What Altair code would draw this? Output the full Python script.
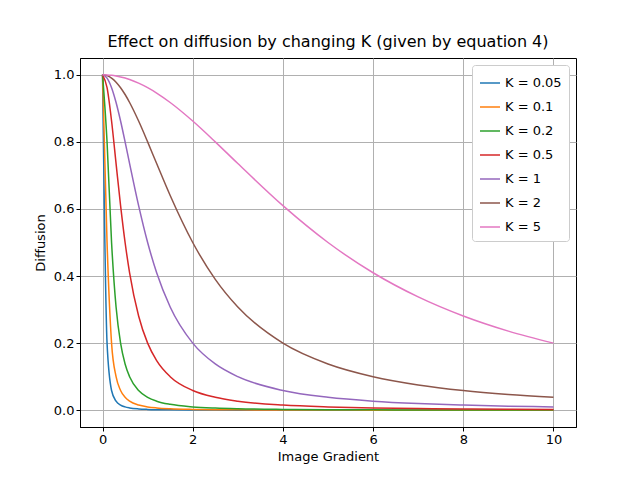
import altair as alt
import pandas as pd

x_vals = [0, 0.1, 0.2, 0.3, 0.4, 0.5, 0.6, 0.8, 1, 1.2, 1.5, 2, 2.5, 3, 4, 5, 6, 7, 8, 9, 10]

series = {
    "K = 0.05": [1, 0.2, 0.0588, 0.027, 0.0154, 0.0099, 0.0069, 0.0039, 0.0025, 0.0017, 0.0011,
                 0.0006, 0.0004, 0.0003, 0.0002, 0.0001, 0.0001, 0.0001, 0.0, 0.0, 0.0],
    "K = 0.1": [1, 0.5, 0.2, 0.1, 0.0588, 0.0385, 0.027, 0.0154, 0.0099, 0.0069, 0.0044,
                0.0025, 0.0016, 0.0011, 0.0006, 0.0004, 0.0003, 0.0002, 0.0002, 0.0001, 0.0001],
    "K = 0.2": [1, 0.8, 0.5, 0.3077, 0.2, 0.1379, 0.1, 0.0588, 0.0385, 0.027, 0.0175,
                0.0099, 0.0064, 0.0044, 0.0025, 0.0016, 0.0011, 0.0008, 0.0006, 0.0005, 0.0004],
    "K = 0.5": [1, 0.9615, 0.8621, 0.7353, 0.6098, 0.5, 0.4098, 0.2809, 0.2, 0.1479, 0.1,
                0.0588, 0.0385, 0.027, 0.0154, 0.0099, 0.0069, 0.0051, 0.0039, 0.0031, 0.0025],
    "K = 1": [1, 0.9901, 0.9615, 0.9174, 0.8621, 0.8, 0.7353, 0.6098, 0.5, 0.4098, 0.3077,
              0.2, 0.1379, 0.1, 0.0588, 0.0385, 0.027, 0.02, 0.0154, 0.0122, 0.0099],
    "K = 2": [1, 0.9975, 0.9901, 0.978, 0.9615, 0.9412, 0.9174, 0.8621, 0.8, 0.7353, 0.64,
              0.5, 0.3902, 0.3077, 0.2, 0.1379, 0.1, 0.0755, 0.0588, 0.0471, 0.0385],
    "K = 5": [1, 0.9996, 0.9984, 0.9964, 0.9936, 0.9901, 0.9858, 0.975, 0.9615, 0.9455, 0.9174,
              0.8621, 0.8, 0.7353, 0.6098, 0.5, 0.4098, 0.3378, 0.2809, 0.2358, 0.2],
}
colors = ["#1f77b4", "#ff7f0e", "#2ca02c", "#d62728", "#9467bd", "#8c564b", "#e377c2"]
names = list(series)

rows = []
for name, vals in series.items():
    for x, y in zip(x_vals, vals):
        rows.append({"gradient": x, "diffusion": y, "K": name})
df = pd.DataFrame(rows)

axis_style = dict(grid=True, gridColor="#b0b0b0", domainColor="black", tickColor="black",
                  labelColor="black", titleColor="black", labelFontSize=13, titleFontSize=13,
                  labelFont="DejaVu Sans", titleFont="DejaVu Sans", titleFontWeight="normal",
                  tickSize=4)

chart = (
    alt.Chart(df)
    .mark_line(strokeWidth=1.5, interpolate="monotone", clip=True)
    .encode(
        x=alt.X("gradient:Q", title="Image Gradient",
                scale=alt.Scale(domain=[-0.5, 10.5], nice=False, zero=False),
                axis=alt.Axis(values=[0, 2, 4, 6, 8, 10], format="d", titlePadding=4, **axis_style)),
        y=alt.Y("diffusion:Q", title="Diffusion",
                scale=alt.Scale(domain=[-0.05, 1.05], nice=False, zero=False),
                axis=alt.Axis(values=[0, 0.2, 0.4, 0.6, 0.8, 1.0], format=".1f", titlePadding=6, **axis_style)),
        color=alt.Color("K:N", sort=names, scale=alt.Scale(domain=names, range=colors),
                        legend=alt.Legend(title=None, orient="top-right", symbolType="stroke",
                                          symbolStrokeWidth=1.5, symbolSize=400,
                                          fillColor="white", strokeColor="#cccccc",
                                          padding=7, cornerRadius=3, labelFontSize=13,
                                          labelFont="DejaVu Sans", rowPadding=6, offset=7)),
        order=alt.Order("gradient:Q"),
    )
    .properties(
        width=496, height=369,
        title=alt.Title("Effect on diffusion by changing K (given by equation 4)",
                        fontSize=16, font="DejaVu Sans", fontWeight="normal", offset=8),
        padding={"left": 72, "top": 50, "right": 56, "bottom": 45},
        autosize="none",
    )
    .configure_view(stroke="black", strokeWidth=1)
)

chart.save("out.html", embed_options={"renderer": "svg", "actions": False})
